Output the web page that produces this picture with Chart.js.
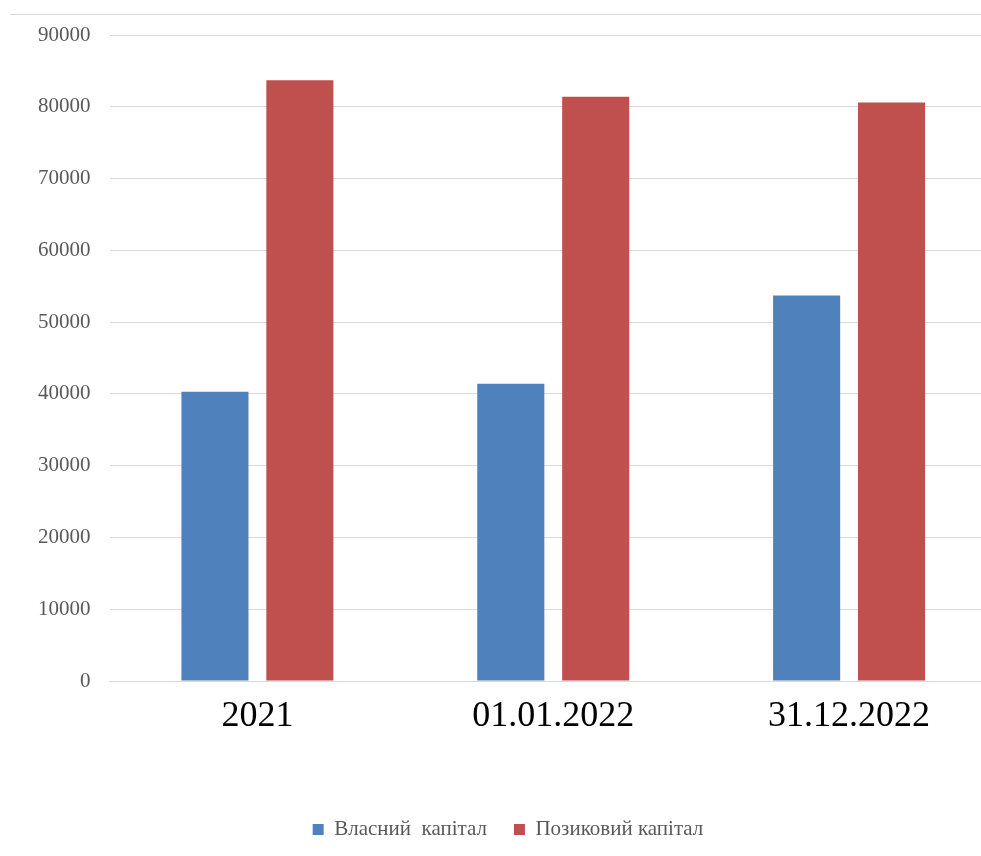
<!DOCTYPE html>
<html>
<head>
<meta charset="utf-8">
<script src="https://cdn.jsdelivr.net/npm/chart.js@4/dist/chart.umd.min.js"></script>
<style>
    html, body { margin: 0; padding: 0; background: #fff; overflow: hidden; }
    #moldura { position: absolute; left: 10px; top: 14px; right: 0; border-top: 1px solid #d9d9d9; }
    #area { position: absolute; left: 0; top: 0; width: 1000px; height: 856px; }
</style>
</head>
<body>
<div id="moldura"></div>
<div id="area"><canvas id="graficoCapital"></canvas></div>
<script>
// dados
const categorias = ["2021", "01.01.2022", "31.12.2022"];
const vlasnyiKapital = [40300, 41400, 53700];
const pozykovyiKapital = [83700, 81400, 80600];
const ticksY = [0, 10000, 20000, 30000, 40000, 50000, 60000, 70000, 80000, 90000];

const fonteSerif = "'Liberation Serif', 'Times New Roman', serif";
const corGrade = '#d9d9d9';

new Chart(document.getElementById("graficoCapital"), {
    type: 'bar',
    data: {
        labels: categorias,
        datasets: [{
            label: "Власний  капітал",
            data: vlasnyiKapital,
            backgroundColor: '#4F81BD'
        }, {
            label: "Позиковий капітал",
            data: pozykovyiKapital,
            backgroundColor: '#C0504D'
        }]
    },
    options: {
        responsive: true,
        maintainAspectRatio: false,
        animation: false,
        devicePixelRatio: 1,
        datasets: {
            bar: { categoryPercentage: 0.574, barPercentage: 0.79 }
        },
        layout: { padding: { top: 35, left: 19, right: 3, bottom: 6 } },
        plugins: {
            tooltip: { enabled: false },
            legend: {
                position: 'bottom',
                labels: {
                    font: { family: fonteSerif, size: 21 },
                    color: '#595959',
                    boxWidth: 11,
                    boxHeight: 11,
                    padding: 27
                }
            }
        },
        scales: {
            x: {
                grid: { display: false },
                border: { color: corGrade },
                ticks: {
                    font: { family: fonteSerif, size: 36 },
                    color: '#000',
                    padding: 6,
                    maxRotation: 0
                },
                afterFit: function (escala) { escala.height = 111; }
            },
            y: {
                min: 0,
                max: 90000,
                afterBuildTicks: function (escala) {
                    escala.ticks = ticksY.map(v => ({ value: v }));
                },
                grid: { color: corGrade, drawTicks: false },
                border: { display: false },
                ticks: {
                    font: { family: fonteSerif, size: 21 },
                    color: '#595959',
                    padding: 19,
                    callback: function (valor) { return String(valor); }
                }
            }
        }
    }
});
</script>
</body>
</html>
